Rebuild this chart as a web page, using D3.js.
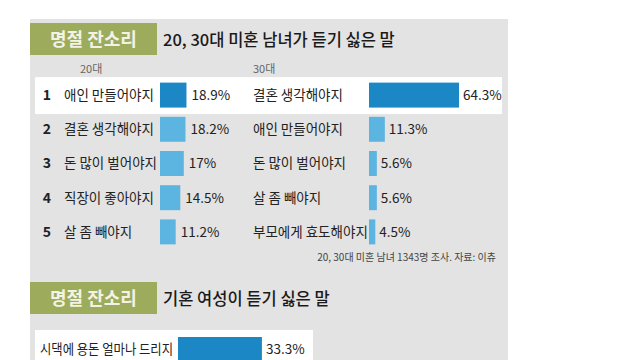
<!DOCTYPE html>
<html><head><meta charset="utf-8">
<script src="https://cdn.jsdelivr.net/npm/d3@7/dist/d3.min.js"></script>
<style>body{margin:0;background:#fff;}svg{display:block;font-family:"Noto Sans CJK KR",sans-serif;}</style>
</head><body>
<svg id="c" width="640" height="360"></svg>
<script>
const ranks = [1, 2, 3, 4, 5];
const labels20 = ["애인 만들어야지", "결혼 생각해야지", "돈 많이 벌어야지", "직장이 좋아야지", "살 좀 빼야지"];
const values20 = [18.9, 18.2, 17, 14.5, 11.2];
const labels30 = ["결혼 생각해야지", "애인 만들어야지", "돈 많이 벌어야지", "살 좀 빼야지", "부모에게 효도해야지"];
const values30 = [64.3, 11.3, 5.6, 5.6, 4.5];
const marriedLabels = ["시댁에 용돈 얼마나 드리지"];
const marriedValues = [33.3];
const badge = "명절 잔소리";
const title1 = "20, 30대 미혼 남녀가 듣기 싫은 말";
const title2 = "기혼 여성이 듣기 싫은 말";
const groupHeads = ["20대", "30대"];
const note = "20, 30대 미혼 남녀 1343명 조사. 자료: 이츄";

const svg = d3.select("#c");
const dark = "#1b87c5", light = "#5cb4e0", green = "#9cab5c";

svg.append("rect").attr("x", 30).attr("y", 19).attr("width", 478).attr("height", 345).attr("fill", "#e3e3e3");

function header(y, t) {
  svg.append("rect").attr("x", 30).attr("y", y).attr("width", 127).attr("height", 32).attr("fill", green);
  svg.append("text").attr("x", 93.5).attr("y", y + 23).attr("text-anchor", "middle")
    .attr("fill", "#f4f2e4").attr("font-size", 18).attr("font-weight", 700).text(badge);
  svg.append("text").attr("x", 163).attr("y", y + 23).attr("fill", "#1a1a1a")
    .attr("font-size", 16.5).attr("font-weight", 500).text(t);
}
header(23, title1);

const y = d3.scaleBand().domain(ranks).range([78, 249]).paddingInner(0.27).paddingOuter(0.135);
const x = d3.scaleLinear().domain([0, 100]).range([0, 140]);

svg.append("rect").attr("x", 35).attr("y", y(1) - 5.5).attr("width", 467)
  .attr("height", y.bandwidth() + 12).attr("fill", "#fff");

svg.append("text").attr("x", 80).attr("y", 73).attr("font-size", 11).attr("fill", "#666").text(groupHeads[0]);
svg.append("text").attr("x", 253).attr("y", 73).attr("font-size", 11).attr("fill", "#666").text(groupHeads[1]);

const rows = svg.append("g").selectAll("g").data(ranks).join("g")
  .attr("transform", r => `translate(0,${y(r)})`);
const cy = y.bandwidth() / 2 + 5;
rows.append("text").attr("x", 47).attr("y", cy).attr("text-anchor", "middle")
  .attr("font-size", 14).attr("font-weight", 700).attr("fill", "#222").text(r => r);
rows.append("text").attr("x", 64).attr("y", cy).attr("font-size", 13.5).attr("fill", "#222")
  .text((r, i) => labels20[i]);
rows.append("rect").attr("x", 160).attr("width", (r, i) => x(values20[i]))
  .attr("height", y.bandwidth()).attr("fill", (r, i) => i === 0 ? dark : light);
rows.append("text").attr("x", (r, i) => 160 + x(values20[i]) + 5).attr("y", cy)
  .attr("font-size", 13.5).attr("fill", "#222").text((r, i) => values20[i] + "%");
rows.append("text").attr("x", 253).attr("y", cy).attr("font-size", 13.5).attr("fill", "#222")
  .text((r, i) => labels30[i]);
rows.append("rect").attr("x", 369).attr("width", (r, i) => x(values30[i]))
  .attr("height", y.bandwidth()).attr("fill", (r, i) => i === 0 ? dark : light);
rows.append("text").attr("x", (r, i) => 369 + x(values30[i]) + 4).attr("y", cy)
  .attr("font-size", 13.5).attr("fill", "#222").text((r, i) => values30[i] + "%");

svg.append("text").attr("x", 496).attr("y", 261).attr("text-anchor", "end")
  .attr("font-size", 10).attr("fill", "#444").text(note);

header(282, title2);

const x2 = d3.scaleLinear().domain([0, 100]).range([0, 252]);
const y2 = d3.scaleBand().domain(marriedLabels).range([337, 362]);
svg.append("rect").attr("x", 35).attr("y", 330).attr("width", 278).attr("height", 40).attr("fill", "#fff");
const mr = svg.append("g").selectAll("g").data(marriedLabels).join("g")
  .attr("transform", d => `translate(0,${y2(d)})`);
mr.append("text").attr("x", 40).attr("y", 17).attr("font-size", 13.5).attr("fill", "#222")
  .attr("textLength", 133).attr("lengthAdjust", "spacingAndGlyphs").text(d => d);
mr.append("rect").attr("x", 178).attr("width", (d, i) => x2(marriedValues[i])).attr("height", y2.bandwidth())
  .attr("fill", dark);
mr.append("text").attr("x", (d, i) => 178 + x2(marriedValues[i]) + 4).attr("y", 17)
  .attr("font-size", 13.5).attr("fill", "#222").text((d, i) => marriedValues[i] + "%");
</script>
</body></html>
